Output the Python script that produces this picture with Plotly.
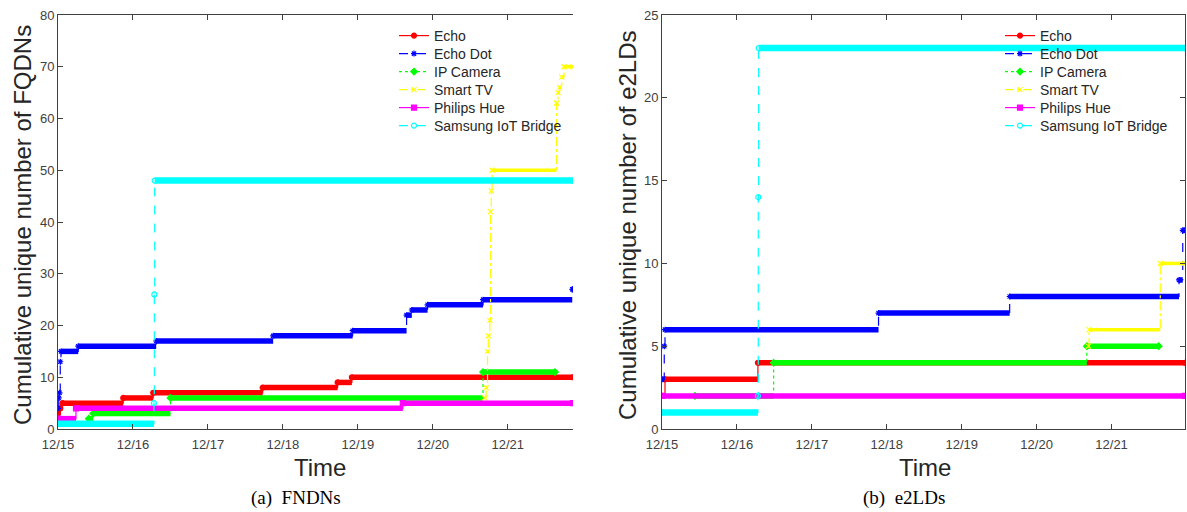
import plotly.graph_objects as go

W, H = 1187, 512

# ---------------- data (time in days since 12/15 00:00) ----------------
tick_days = [0, 1, 2, 3, 4, 5, 6]
tick_labels = ["12/15", "12/16", "12/17", "12/18", "12/19", "12/20", "12/21"]
series_names = ["Echo", "Echo Dot", "IP Camera", "Smart TV", "Philips Hue", "Samsung IoT Bridge"]

# (a) cumulative unique FQDNs
echo_fq_t = [0.00, 0.03, 0.06, 0.87, 1.27, 2.73, 3.73, 3.92, 6.87]
echo_fq_v = [3, 4, 5, 6, 7, 8, 9, 10, 10]
dot_fq_t = [0.00, 0.01, 0.02, 0.03, 0.04, 0.27, 1.31, 2.87, 3.93, 4.65, 4.72, 4.93, 5.67, 6.86, 6.87]
dot_fq_v = [4, 6, 7, 13, 15, 16, 17, 18, 19, 22, 23, 24, 25, 27, 27]
cam_fq_t = [0.41, 0.47, 1.50, 5.67, 6.63]
cam_fq_v = [2, 3, 6, 11, 11]
tv_fq_t = [5.69, 5.71, 5.73, 5.74, 5.76, 5.77, 5.78, 5.79, 6.65, 6.67, 6.69, 6.72, 6.75, 6.87]
tv_fq_v = [6, 8, 15, 18, 21, 42, 46, 50, 63, 65, 66, 68, 70, 70]
hue_fq_t = [0.00, 0.24, 4.60, 6.87]
hue_fq_v = [2, 4, 5, 5]
sam_fq_t = [0.00, 1.28, 1.285, 1.29, 6.87]
sam_fq_v = [1, 5, 26, 48, 48]

# (b) cumulative unique e2LDs
echo_e2_t = [0.00, 0.04, 1.28, 6.98]
echo_e2_v = [2, 3, 4, 4]
dot_e2_t = [0.00, 0.03, 0.04, 2.89, 4.64, 6.90, 6.95, 6.98]
dot_e2_v = [3, 5, 6, 7, 8, 9, 12, 12]
cam_e2_t = [0.44, 1.49, 5.67, 6.63]
cam_e2_v = [2, 4, 5, 5]
tv_e2_t = [5.69, 5.70, 6.65, 6.98]
tv_e2_v = [5, 6, 10, 10]
hue_e2_t = [0.00, 6.98]
hue_e2_v = [2, 2]
sam_e2_t = [0.00, 1.28, 1.285, 1.29, 6.98]
sam_e2_v = [1, 2, 14, 23, 23]

fq_data = [(echo_fq_t, echo_fq_v), (dot_fq_t, dot_fq_v), (cam_fq_t, cam_fq_v),
           (tv_fq_t, tv_fq_v), (hue_fq_t, hue_fq_v), (sam_fq_t, sam_fq_v)]
e2_data = [(echo_e2_t, echo_e2_v), (dot_e2_t, dot_e2_v), (cam_e2_t, cam_e2_v),
           (tv_e2_t, tv_e2_v), (hue_e2_t, hue_e2_v), (sam_e2_t, sam_e2_v)]

# ---------------- styles ----------------
colors = ["#ff0000", "#0000ff", "#00ff00", "#ffff00", "#ff00ff", "#00ffff"]
dashes = ["solid", "dash", "dot", "dashdot", "solid", "dash"]
symbols = ["circle", "asterisk-open", "diamond", "x-thin-open", "square", "circle-open"]
thick = [5.5, 5.5, 5.5, 3.5, 5.5, 6.5]

AX = "#404040"
TXT = "#262626"
SANS = "Liberation Sans, Arial, Helvetica, sans-serif"
SERIF = "Liberation Serif, Times New Roman, serif"

fig = go.Figure()


def px(x):
    return x / W


def py(y):
    return 1 - y / H


def legend_key(n):
    return "legend" if n == 1 else "legend%d" % n


def add_series(data, xa, ya, plot_index):
    for i, (t, v) in enumerate(data):
        # dense horizontal runs (drawn thick)
        xs, ys = [], []
        for k in range(len(t) - 1):
            xs += [t[k], t[k + 1], None]
            ys += [v[k], v[k], None]
        fig.add_trace(go.Scatter(x=xs, y=ys, mode="lines", xaxis=xa, yaxis=ya,
                                 line=dict(color=colors[i], width=thick[i]),
                                 showlegend=False, hoverinfo="skip"))
        # thin connecting line with markers (legend entry)
        mk = dict(symbol=symbols[i], size=5, color=colors[i],
                  line=dict(color=colors[i], width=1.2))
        fig.add_trace(go.Scatter(x=t, y=v, mode="lines+markers", xaxis=xa, yaxis=ya,
                                 name=series_names[i],
                                 legend=legend_key(plot_index * 6 + i + 1),
                                 line=dict(color=colors[i], width=1.2, dash=dashes[i], shape="hv"),
                                 marker=mk, hoverinfo="skip"))


add_series(fq_data, "x", "y", 0)
add_series(e2_data, "x2", "y2", 1)

ydom = [py(429), py(15)]
common_x = dict(tickvals=tick_days, ticktext=tick_labels, ticks="inside", ticklen=5,
                tickcolor=AX, showline=True, linecolor=AX, linewidth=1, mirror="ticks",
                showgrid=False, zeroline=False, automargin=False, ticklabelstandoff=3,
                tickfont=dict(family=SANS, size=13, color=AX))
common_y = dict(ticks="inside", ticklen=5, tickcolor=AX, showline=True, linecolor=AX,
                linewidth=1, showgrid=False, zeroline=False, automargin=False,
                tickfont=dict(family=SANS, size=13, color=AX))

fig.update_layout(
    width=W, height=H, margin=dict(l=0, r=0, t=0, b=0, autoexpand=False),
    paper_bgcolor="white", plot_bgcolor="white",
    xaxis=dict(domain=[px(58), px(573)], range=[0, 6.87], anchor="y", **common_x),
    yaxis=dict(domain=ydom, range=[0, 80], tickvals=[0, 10, 20, 30, 40, 50, 60, 70, 80],
               anchor="x", mirror=False, **common_y),
    xaxis2=dict(domain=[px(662), px(1185)], range=[0, 6.98], anchor="y2", **common_x),
    yaxis2=dict(domain=ydom, range=[0, 25], tickvals=[0, 5, 10, 15, 20, 25],
                anchor="x2", mirror="ticks", **common_y),
    showlegend=True,
)

# one legend per entry so the entry spacing can follow the reference
legend_left = [394, 1000]
for p in range(2):
    for i in range(6):
        fig.layout[legend_key(p * 6 + i + 1)] = dict(
            x=px(legend_left[p]), y=py(36 + 18 * i), xanchor="left", yanchor="middle",
            font=dict(family=SANS, size=14, color=TXT), bgcolor="rgba(0,0,0,0)",
            borderwidth=0, itemwidth=30)

ann = []
ann.append(dict(text="Cumulative unique number of FQDNs", x=px(22), y=py(225), textangle=-90,
                font=dict(family=SANS, size=24, color=TXT)))
ann.append(dict(text="Cumulative unique number of e2LDs", x=px(627), y=py(225), textangle=-90,
                font=dict(family=SANS, size=24, color=TXT)))
ann.append(dict(text="Time", x=px(320), y=py(467), font=dict(family=SANS, size=24, color=TXT)))
ann.append(dict(text="Time", x=px(925), y=py(467), font=dict(family=SANS, size=24, color=TXT)))
ann.append(dict(text="(a)  FNDNs", x=px(296), y=py(498), font=dict(family=SERIF, size=19, color="#000000")))
ann.append(dict(text="(b)  e2LDs", x=px(904), y=py(498), font=dict(family=SERIF, size=19, color="#000000")))
for a in ann:
    a.update(xref="paper", yref="paper", showarrow=False, xanchor="center", yanchor="middle")
fig.update_layout(annotations=ann)

fig.write_html("out.html", config={"displayModeBar": False},
               post_script="document.body.style.margin='0';document.body.style.overflow='hidden';")
